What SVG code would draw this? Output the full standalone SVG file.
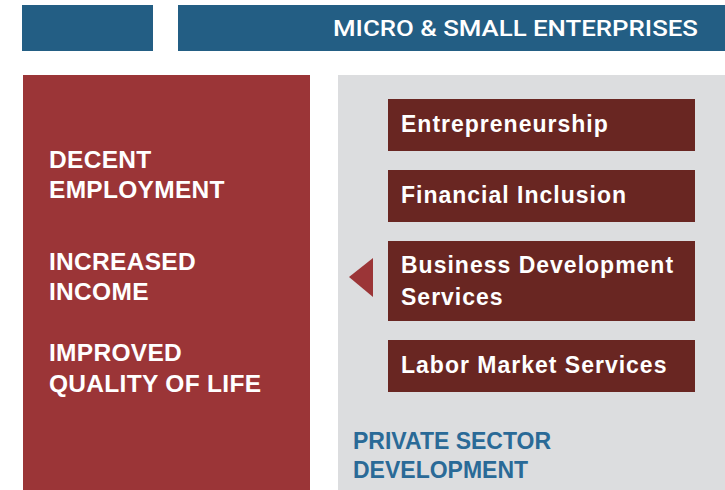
<svg xmlns="http://www.w3.org/2000/svg" width="725" height="490" viewBox="0 0 725 490">
<style>
.bar{fill:#235e84}
.item rect{fill:#692622}
.item text{fill:#ffffff;font-family:"Liberation Sans",Arial,sans-serif;font-weight:bold;font-size:23px;letter-spacing:1px}
.outcome{fill:#ffffff;font-family:"Liberation Sans",Arial,sans-serif;font-weight:bold;font-size:24.5px;letter-spacing:0.3px}
.psd{fill:#2a6a97;font-family:"Liberation Sans",Arial,sans-serif;font-weight:bold;font-size:23px}
</style>
<rect width="725" height="490" fill="#ffffff"/>
<g id="bar-left"><rect class="bar" x="22" y="5" width="131" height="46"/></g>
<g id="bar-mse"><rect class="bar" x="178" y="5" width="547" height="46"/>
<text x="698" y="36" text-anchor="end" fill="#ffffff" font-family="Roboto,'Liberation Sans',sans-serif" font-weight="500" font-size="22" textLength="365" lengthAdjust="spacingAndGlyphs">MICRO &amp; SMALL ENTERPRISES</text></g>
<g id="outcomes"><rect x="23" y="75" width="287" height="415" fill="#9b3537"/>
<text class="outcome" x="49" y="168">DECENT</text>
<text class="outcome" x="49" y="198">EMPLOYMENT</text>
<text class="outcome" x="49" y="270">INCREASED</text>
<text class="outcome" x="49" y="300">INCOME</text>
<text class="outcome" x="49" y="361">IMPROVED</text>
<text class="outcome" x="49" y="392">QUALITY OF LIFE</text></g>
<g id="psd"><rect x="338" y="75" width="387" height="415" fill="#dcdddf"/>
<text class="psd" x="353" y="449">PRIVATE SECTOR</text>
<text class="psd" x="353" y="478">DEVELOPMENT</text></g>
<g id="entrepreneurship" class="item"><rect x="388" y="99" width="307" height="52"/><text x="401" y="132">Entrepreneurship</text></g>
<g id="financial-inclusion" class="item"><rect x="388" y="170" width="307" height="52"/><text x="401" y="203">Financial Inclusion</text></g>
<g id="bds" class="item"><rect x="388" y="241" width="307" height="80"/><text x="401" y="273">Business Development</text><text x="401" y="305">Services</text></g>
<g id="labor-market" class="item"><rect x="388" y="340" width="307" height="52"/><text x="401" y="373">Labor Market Services</text></g>
<g id="connectors"><polygon points="349,277 373,258 373,297" fill="#9b3537"/></g>
</svg>
